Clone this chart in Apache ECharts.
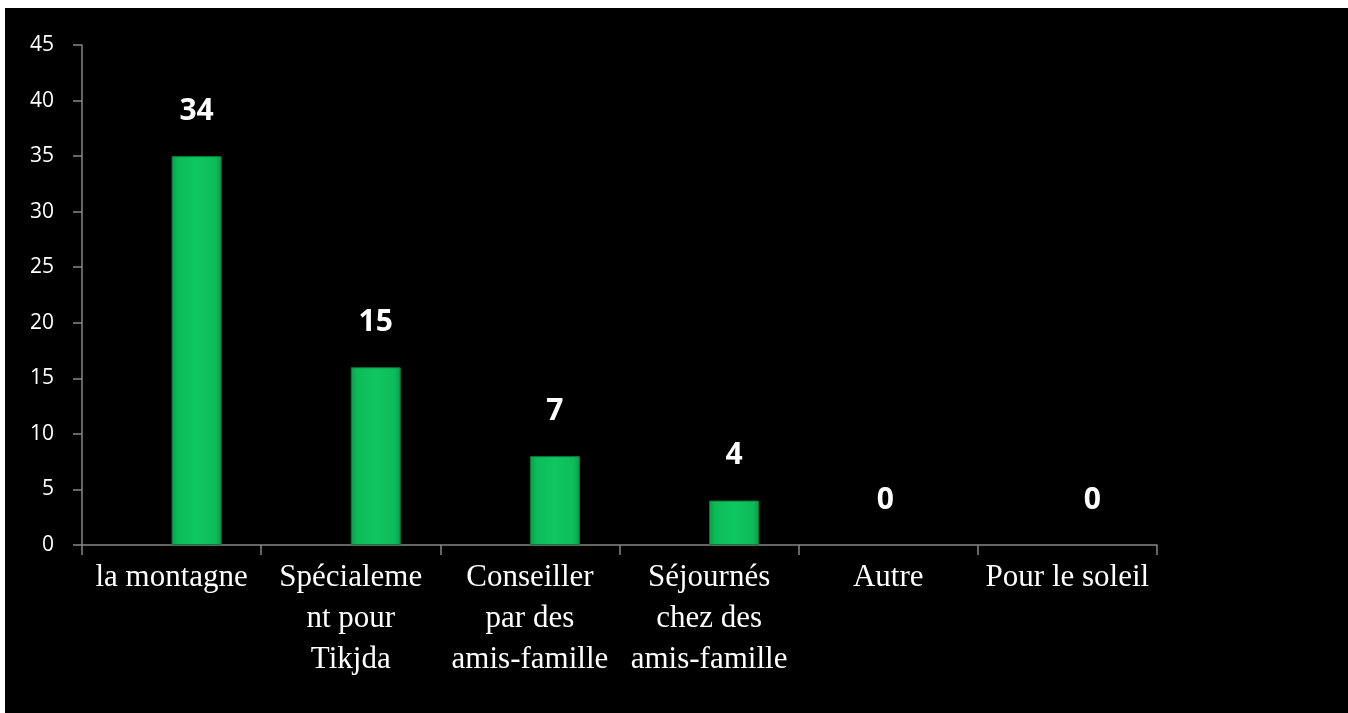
<!DOCTYPE html>
<html>
<head>
<meta charset="utf-8">
<script src="https://cdn.jsdelivr.net/npm/echarts@6/dist/echarts.min.js"></script>
<style>
  html, body { margin: 0; padding: 0; background: #ffffff; }
  #chart { position: absolute; left: 5px; top: 8px; width: 1343px; height: 705px; background: #000000; }
</style>
</head>
<body>
<div id="chart"></div>
<script>
// categories (line breaks as in the picture)
var categories = [
  'la montagne',
  'Spécialeme\nnt pour\nTikjda',
  'Conseiller\npar des\namis-famille',
  'Séjournés\nchez des\namis-famille',
  'Autre',
  'Pour le soleil'
];
// bar heights as drawn
var barValues = [35, 16, 8, 4, 0, 0];
// numbers printed above the bars
var labelValues = [34, 15, 7, 4, 0, 0];
// y axis
var yMin = 0, yMax = 45, yStep = 5;

var chart = echarts.init(document.getElementById('chart'));

var barFill = new echarts.graphic.LinearGradient(0, 0, 1, 0, [
  { offset: 0, color: '#0a9c4a' },
  { offset: 0.12, color: '#0cbc59' },
  { offset: 0.5, color: '#10c660' },
  { offset: 0.88, color: '#0cbc59' },
  { offset: 1, color: '#0a9c4a' }
]);

var data = barValues.map(function (v, i) {
  var item = { value: v };
  // no outline for empty bars
  if (v === 0) item.itemStyle = { borderWidth: 0, color: 'rgba(0,0,0,0)' };
  // the "Autre" label sits on the category centre, not over the bar
  if (i === 4) item.label = { offset: [-28, 0] };
  return item;
});

var option = {
  backgroundColor: '#000000',
  animation: false,
  grid: { left: 77, top: 37, width: 1075, height: 500 },
  xAxis: {
    type: 'category',
    data: categories,
    axisLine: { lineStyle: { color: '#868686', width: 1.5 } },
    axisTick: { show: true, length: 10, lineStyle: { color: '#868686', width: 1.5 } },
    axisLabel: {
      interval: 0,
      color: '#ffffff',
      fontFamily: '"Liberation Serif", "Times New Roman", serif',
      fontSize: 31,
      lineHeight: 41,
      margin: 12
    }
  },
  yAxis: {
    type: 'value',
    min: yMin,
    max: yMax,
    interval: yStep,
    splitLine: { show: false },
    axisLine: { show: true, lineStyle: { color: '#868686', width: 1.5 } },
    axisTick: { show: true, length: 9, lineStyle: { color: '#868686', width: 1.5 } },
    axisLabel: {
      color: '#ffffff',
      fontFamily: '"Open Sans", sans-serif',
      fontSize: 21,
      margin: 28
    }
  },
  series: [
    {
      // empty slot, pushes the real bars to the right half of each category
      type: 'bar',
      data: barValues.map(function () { return '-'; }),
      barWidth: 50,
      barGap: '0%',
      silent: true
    },
    {
      type: 'bar',
      data: data,
      barWidth: 50,
      itemStyle: { color: barFill, borderColor: '#077a39', borderWidth: 1 },
      label: {
        show: true,
        position: 'top',
        distance: 30,
        color: '#ffffff',
        fontFamily: '"Open Sans", sans-serif',
        fontWeight: 'bold',
        fontSize: 30,
        formatter: function (p) { return labelValues[p.dataIndex]; }
      }
    }
  ]
};

chart.setOption(option);
</script>
</body>
</html>
